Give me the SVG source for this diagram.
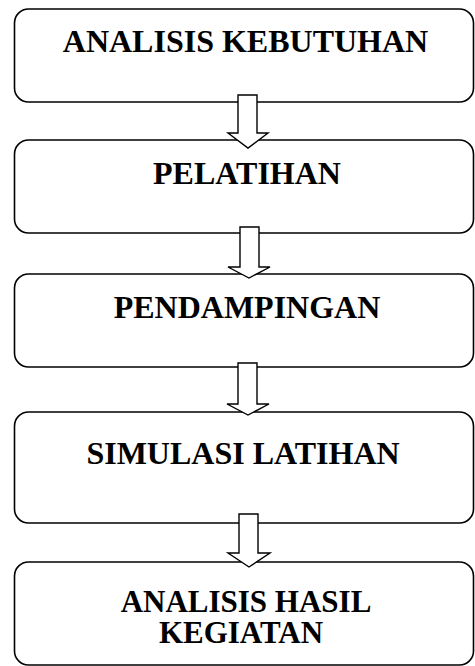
<svg xmlns="http://www.w3.org/2000/svg" width="475" height="666" viewBox="0 0 475 666">
<style>
.box{fill:#fff;stroke:#000;stroke-width:1.6}
.arr{fill:#fff;stroke:#000;stroke-width:1.4;stroke-linejoin:miter}
.t{font-family:"Liberation Serif","Times New Roman",serif;font-weight:bold;font-size:32px;fill:#000;text-anchor:middle}
.t2{font-size:31px}
</style>
<rect width="475" height="666" fill="#fff"/>
<g id="n1"><rect class="box" x="14.5" y="9" width="459" height="93" rx="14"/><text class="t" x="245.5" y="52">ANALISIS KEBUTUHAN</text></g>
<g id="n2"><rect class="box" x="14.5" y="140" width="459" height="93" rx="14"/><text class="t" x="247" y="184">PELATIHAN</text></g>
<g id="n3"><rect class="box" x="14.5" y="274" width="459" height="93" rx="14"/><text class="t" x="247" y="318">PENDAMPINGAN</text></g>
<g id="n4"><rect class="box" x="14.5" y="412" width="459" height="111" rx="14"/><text class="t" x="243" y="464">SIMULASI LATIHAN</text></g>
<g id="n5"><rect class="box" x="14.5" y="562" width="459" height="103" rx="14"/><text class="t t2" x="246" y="612">ANALISIS HASIL</text><text class="t t2" x="241" y="643">KEGIATAN</text></g>
<g id="connectors">
<polygon class="arr" points="238,95 257,95 257,133 268,133 248,148 228,133 238,133"/>
<polygon class="arr" points="240,227 259,227 259,267 270,267 249,278 228,267 240,267"/>
<polygon class="arr" points="238,363 257,363 257,404 269,404 248,415 227,404 238,404"/>
<polygon class="arr" points="239,514 258,514 258,553 270,553 249,567 228,553 239,553"/>
</g>
</svg>
